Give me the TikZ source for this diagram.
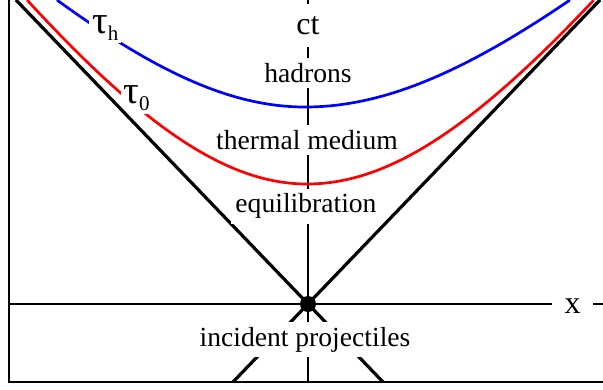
\documentclass[tikz,border=0pt]{standalone}
\usepackage{fontspec}
\setmainfont{Liberation Serif}
\usetikzlibrary{positioning}

\begin{document}
\begin{tikzpicture}[
  x=1pt,y=-1pt,
  font=\fontsize{27.6}{32}\selectfont,
  %--- line styles ---
  frame/.style    ={draw=black,line width=1.5pt},
  cone/.style     ={draw=black,line width=3.2pt},
  tauzero/.style  ={draw=red,line width=2.7pt},
  tauhad/.style   ={draw=blue,line width=2.7pt},
  %--- label styles ---
  region/.style   ={fill=white,text=black,inner xsep=4pt,inner ysep=5pt,anchor=base},
  axislabel/.style={fill=white,text=black,inner sep=12.5pt,anchor=base,
                    font=\fontsize{32}{36}\selectfont},
  taulabel/.style ={fill=white,text=black,inner sep=3pt,anchor=base west,
                    font=\fontsize{39}{44}\selectfont},
]
\newcommand{\tausub}[1]{\raisebox{-7pt}{\fontsize{21}{24}\selectfont #1}}

\useasboundingbox (0,0) rectangle (603,389);

%==================== reference points ====================
\coordinate (O)  at (308,304);   % collision point
\coordinate (FT) at (9,0);
\coordinate (FB) at (9,382);
\coordinate (BR) at (603,382);
\coordinate (XL) at (9,304);
\coordinate (XR) at (603,304);
\coordinate (CT) at (308,0);
\coordinate (CB) at (308,382);
\coordinate (NW) at (16,0);
\coordinate (NE) at (600,0);
\coordinate (SW) at (233,382);
\coordinate (SE) at (383,382);

%==================== frame and axes ====================
\draw[frame] (FT) -- (FB) -- (BR);
\draw[frame] (XL) -- (XR);
\draw[frame] (CT) -- (CB);

%==================== proper-time curves ====================
\draw[tauzero] plot[domain=-2.868:2.868,samples=120]
  ({307+100*\x*(\x<0 ? 0.976 : 1)}, {304-120-141*(sqrt(6.25+\x*\x)-2.5)});
\draw[tauhad] plot[domain=-2.65:2.65,samples=120]
  ({305+100*\x*(\x<0 ? 0.936 : 1)}, {304-197-93.6*(sqrt(6.25+\x*\x)-2.5)});

\node[taulabel] (th) at (89,33)     {τ\tausub{h}};
\node[taulabel] (t0) at (120.3,103.3) {τ\tausub{0}};

%==================== light cone ====================
\draw[cone] (NW) -- (SE);
\draw[cone] (NE) -- (SW);

%==================== labels ====================
\node[axislabel] (ct) at (308,34.3)  {ct};
\node[axislabel] (xa) at (572.5,313.3) {x};

\node[region] (had)   at (308,82.3)  {hadrons};
\node[region] (therm) at (307,149.3) {thermal medium};
\node[region] (equi)  at (306,212.7) {equilibration};
\node[region] (proj)  at (305,346)   {incident projectiles};

\fill (O) circle[radius=8pt];

\end{tikzpicture}
\end{document}
